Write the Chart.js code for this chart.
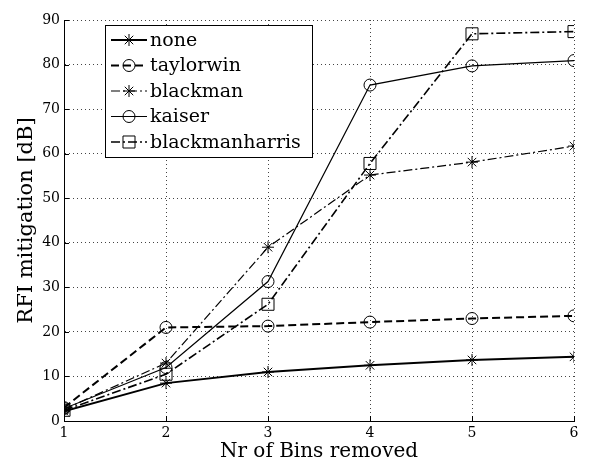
<!DOCTYPE html>
<html lang="en">
<head>
<meta charset="UTF-8">
<title>RFI mitigation</title>
<script src="https://cdn.jsdelivr.net/npm/chart.js"></script>
<style>
  body { margin: 0; background: #fff; }
</style>
</head>
<body>
<canvas id="myChart" width="591" height="466"></canvas>
<script>
// values
const bins = [1, 2, 3, 4, 5, 6];
const noneVals = [2.2, 8.5, 11.0, 12.5, 13.7, 14.4];
const taylorwinVals = [3.0, 21.0, 21.3, 22.2, 23.0, 23.6];
const blackmanVals = [2.6, 13.0, 39.0, 55.2, 58.1, 61.7];
const kaiserVals = [2.8, 12.0, 31.3, 75.4, 79.7, 80.9];
const blackmanharrisVals = [2.4, 10.5, 26.2, 57.8, 86.9, 87.4];
const yTicks = [0, 10, 20, 30, 40, 50, 60, 70, 80, 90];

const serif = 'DejaVu Serif';

function pts(vals) {
    return bins.map((b, i) => ({ x: b, y: vals[i] }));
}

function series(label, vals, style, width, dash, radius) {
    return {
        label: label,
        data: pts(vals),
        borderColor: '#000',
        borderWidth: width,
        borderDash: dash,
        pointStyle: style,
        pointRadius: radius,
        pointBorderColor: '#000',
        pointBackgroundColor: 'rgba(0,0,0,0)',
        pointBorderWidth: 1,
        tension: 0
    };
}

// small inward tick marks, matlab style
const innerTicks = {
    id: 'innerTicks',
    afterDraw(chart) {
        const ctx = chart.ctx;
        const a = chart.chartArea;
        const xs = chart.scales.x, ys = chart.scales.y;
        ctx.save();
        ctx.strokeStyle = '#000';
        ctx.lineWidth = 1;
        ctx.beginPath();
        bins.forEach(b => {
            const px = Math.round(xs.getPixelForValue(b)) + 0.5;
            ctx.moveTo(px, a.bottom);
            ctx.lineTo(px, a.bottom - 5);
        });
        yTicks.forEach(v => {
            const py = Math.round(ys.getPixelForValue(v)) + 0.5;
            ctx.moveTo(a.left, py);
            ctx.lineTo(a.left + 5, py);
        });
        ctx.stroke();
        ctx.restore();
    }
};

// legend box drawn inside the plot, like the matlab one
const boxLegend = {
    id: 'boxLegend',
    afterDraw(chart) {
        const ctx = chart.ctx;
        const sets = chart.data.datasets;
        const left = 105, top = 25, w = 207, h = 132, rowH = 25.5;
        ctx.save();
        ctx.fillStyle = '#fff';
        ctx.fillRect(left, top, w, h);
        ctx.strokeStyle = '#000';
        ctx.lineWidth = 1;
        ctx.setLineDash([]);
        ctx.strokeRect(left + 0.5, top + 0.5, w, h);
        ctx.font = '19px "' + serif + '"';
        ctx.textBaseline = 'middle';
        sets.forEach((ds, i) => {
            const y = top + 15 + i * rowH;
            ctx.strokeStyle = '#000';
            ctx.lineWidth = ds.borderWidth;
            ctx.setLineDash(ds.borderDash || []);
            ctx.beginPath();
            ctx.moveTo(111, y);
            ctx.lineTo(147, y);
            ctx.stroke();
            ctx.setLineDash([]);
            ctx.lineWidth = 1;
            ctx.fillStyle = 'rgba(0,0,0,0)';
            Chart.helpers.drawPoint(ctx, {
                pointStyle: ds.pointStyle,
                radius: ds.pointRadius,
                rotation: 0,
                borderWidth: 1
            }, 129, y);
            ctx.fillStyle = '#000';
            ctx.fillText(ds.label, 150, y + 1);
        });
        ctx.restore();
    }
};

const ctx = document.getElementById('myChart');
new Chart(ctx, {
    type: 'line',
    data: {
        datasets: [
            series('none', noneVals, 'star', 2, [], 6),
            series('taylorwin', taylorwinVals, 'circle', 2, [8, 4], 6),
            series('blackman', blackmanVals, 'star', 1.2, [9, 3, 2, 3], 6),
            series('kaiser', kaiserVals, 'circle', 1.2, [], 6),
            series('blackmanharris', blackmanharrisVals, 'rect', 1.6, [9, 3, 2, 3], 8.5)
        ]
    },
    options: {
        responsive: false,
        animation: false,
        layout: { padding: { top: 20, right: 17, left: 0, bottom: 0 } },
        plugins: {
            legend: { display: false },
            tooltip: { enabled: false }
        },
        scales: {
            x: {
                type: 'linear',
                min: 1,
                max: 6,
                afterFit(scale) { scale.height = 45; },
                ticks: {
                    stepSize: 1,
                    padding: 4,
                    color: '#000',
                    font: { family: serif, size: 14 }
                },
                grid: {
                    color: '#444',
                    drawTicks: false
                },
                border: { display: true, color: '#000', width: 1, dash: [1, 3] },
                title: {
                    display: true,
                    text: 'Nr of Bins removed',
                    color: '#000',
                    font: { family: serif, size: 20 },
                    padding: { top: 0, bottom: 2 }
                }
            },
            y: {
                min: 0,
                max: 90,
                afterFit(scale) { scale.width = 64; },
                afterBuildTicks(scale) { scale.ticks = yTicks.map(v => ({ value: v })); },
                ticks: {
                    padding: 4,
                    color: '#000',
                    font: { family: serif, size: 14 }
                },
                grid: {
                    color: '#444',
                    drawTicks: false
                },
                border: { display: true, color: '#000', width: 1, dash: [1, 3] },
                title: {
                    display: true,
                    text: 'RFI mitigation [dB]',
                    color: '#000',
                    font: { family: serif, size: 21 },
                    padding: { top: 14, bottom: 0 }
                }
            }
        }
    },
    plugins: [innerTicks, boxLegend]
});
</script>
</body>
</html>
